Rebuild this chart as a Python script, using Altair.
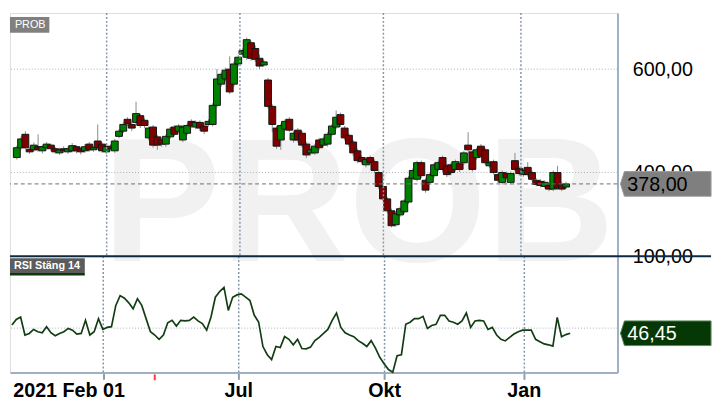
import altair as alt
import pandas as pd

symbol = "PROB"
rsi_name = "RSI Stäng 14"

opens = [429, 448, 474, 445, 444, 450, 442, 448, 453, 446,
         438, 446, 440, 442, 450, 446, 442, 455, 444, 461,
         455, 440, 451, 442, 470, 480, 503, 493, 497, 510,
         501, 467, 488, 469, 463, 455, 469, 488, 480, 463,
         476, 499, 488, 497, 490, 493, 493, 530, 571, 581,
         600, 571, 610, 629, 623, 651, 640, 621, 608, 579,
         528, 486, 463, 484, 503, 463, 482, 476, 455, 438,
         438, 463, 453, 455, 474, 488, 512, 486, 472, 459,
         442, 429, 415, 429, 421, 400, 373, 349, 326, 299,
         318, 324, 343, 389, 387, 419, 385, 381, 394, 406,
         429, 413, 415, 406, 417, 419, 453, 440, 429, 451,
         444, 413, 421, 396, 381, 398, 381, 423, 408, 396,
         410, 400, 385, 383, 373, 375, 368, 400, 377, 372]
closes = [448, 465, 448, 440, 453, 444, 450, 455, 446, 440,
          444, 442, 446, 452, 442, 440, 450, 444, 448, 448,
          442, 450, 446, 461, 480, 493, 495, 486, 514, 491,
          491, 486, 453, 453, 455, 470, 484, 474, 490, 488,
          491, 490, 497, 486, 480, 499, 530, 581, 590, 598,
          556, 610, 623, 636, 657, 621, 619, 606, 614, 528,
          493, 451, 491, 499, 482, 476, 463, 453, 434, 444,
          451, 448, 465, 474, 490, 507, 493, 467, 455, 438,
          423, 421, 425, 419, 404, 373, 349, 326, 297, 320,
          330, 345, 389, 404, 419, 394, 366, 396, 415, 419,
          406, 396, 400, 421, 406, 438, 444, 406, 444, 432,
          419, 419, 400, 385, 400, 390, 398, 406, 398, 404,
          396, 387, 377, 375, 381, 368, 400, 370, 368, 378]
highs = [452, 470, 480, 449, 458, 474, 453, 459, 456, 450,
         448, 451, 450, 457, 453, 449, 455, 459, 452, 493,
         459, 454, 455, 465, 484, 497, 507, 497, 537, 514,
         505, 490, 492, 473, 467, 474, 488, 492, 494, 492,
         495, 503, 501, 501, 494, 503, 534, 600, 594, 603,
         625, 615, 627, 640, 661, 655, 646, 628, 618, 583,
         532, 490, 495, 503, 507, 480, 486, 480, 459, 448,
         455, 467, 469, 478, 494, 520, 516, 490, 476, 463,
         446, 433, 429, 433, 425, 404, 377, 353, 330, 324,
         334, 349, 393, 408, 423, 423, 389, 400, 419, 423,
         433, 417, 419, 425, 421, 442, 478, 444, 448, 455,
         448, 423, 425, 400, 404, 402, 402, 438, 412, 408,
         420, 404, 389, 387, 385, 379, 404, 413, 381, 382]
lows = [425, 444, 445, 436, 440, 440, 437, 444, 441, 436,
        434, 438, 436, 439, 437, 435, 438, 440, 440, 444,
        438, 436, 442, 438, 466, 476, 490, 480, 493, 486,
        486, 462, 448, 444, 450, 450, 465, 470, 476, 459,
        472, 486, 484, 480, 474, 489, 489, 526, 566, 576,
        552, 566, 605, 624, 618, 616, 614, 600, 604, 524,
        478, 446, 444, 480, 478, 458, 458, 448, 428, 433,
        434, 443, 449, 450, 470, 484, 488, 462, 450, 432,
        418, 416, 410, 414, 399, 368, 344, 321, 294, 295,
        314, 320, 339, 385, 383, 389, 361, 377, 390, 402,
        401, 391, 395, 402, 401, 415, 440, 402, 425, 428,
        415, 409, 396, 380, 377, 386, 377, 402, 394, 392,
        392, 383, 373, 371, 369, 364, 364, 366, 364, 368]
rsi = [52.1, 56.0, 57.7, 45.2, 46.3, 49.1, 47.5, 46.8, 51.0, 46.8,
       44.7, 46.3, 47.5, 49.8, 48.6, 45.9, 46.3, 55.4, 45.2, 47.5,
       56.6, 49.1, 50.5, 51.0, 65.8, 72.6, 70.8, 67.6, 63.5, 70.4,
       65.8, 56.6, 47.5, 45.2, 42.2, 45.2, 53.7, 55.4, 51.4, 55.4,
       55.0, 55.4, 57.7, 55.0, 53.2, 48.6, 57.7, 71.5, 75.4, 78.3,
       62.3, 71.5, 73.1, 73.8, 71.5, 69.2, 58.9, 54.3, 37.2, 31.5,
       28.1, 37.2, 36.5, 44.1, 42.2, 38.4, 42.2, 35.8, 35.6, 36.8,
       41.3, 43.6, 46.3, 49.1, 55.4, 60.5, 50.5, 46.8, 45.2, 44.1,
       41.3, 39.5, 37.2, 41.3, 36.1, 29.7, 25.3, 21.2, 19.4, 30.8,
       31.5, 52.7, 54.1, 56.6, 56.6, 58.2, 49.8, 51.8, 52.7, 58.9,
       58.9, 55.0, 54.1, 52.7, 55.0, 60.5, 50.5, 55.0, 55.4, 55.0,
       49.1, 50.5, 45.2, 42.2, 41.1, 43.6, 45.9, 47.5, 48.6, 48.6,
       48.6, 42.2, 40.6, 39.0, 38.4, 37.5, 57.5, 44.0, 45.5, 46.45]

tick_pos = [21.1, 52.4, 86.1, 118.4]
tick_text = ["2021 Feb 01", "Jul", "Okt", "Jan"]
marker_pos = [33.0]
price_ticks = [400, 600]
rsi_ticks = [50, 100]

FONT = "Liberation Sans"
W, HP, HR = 617, 247, 118
X_DOM = [-0.455, 139.93]
P_DOM = [238.1, 708.6]
R_DOM = [19.2, 100]
LE = "replace(format(datum.value, '.2f'), '.', ',')"
TAG = "M -1 0 L -0.913 -0.272 L 1 -0.272 L 1 0.272 L -0.913 0.272 Z"


def fmt(v):
    return f"{v:.2f}".replace(".", ",")


n = len(closes)
df = pd.DataFrame({"i": list(range(n)), "open": opens, "close": closes,
                   "high": highs, "low": lows, "rsi": rsi})
df["dir"] = ["up" if c >= o else "down" for o, c in zip(opens, closes)]
last = pd.DataFrame({"close": [closes[-1]], "rsi": [rsi[-1]],
                     "plabel": [fmt(closes[-1])], "rlabel": [fmt(rsi[-1])]})
vgrid = pd.DataFrame({"i": tick_pos, "label": tick_text})
sym_df = pd.DataFrame({"t": [symbol]})
rsi_df = pd.DataFrame({"t": [rsi_name]})

xs = alt.Scale(domain=X_DOM, nice=False, zero=False)
ps = alt.Scale(domain=P_DOM, nice=False, zero=False)
rs = alt.Scale(domain=R_DOM, nice=False, zero=False)

p_axis = alt.Axis(orient="right", values=price_ticks, labelExpr=LE, ticks=False,
                  grid=False, domain=True, domainColor="#9fb0c3", domainWidth=2,
                  labelPadding=15, labelFontSize=20, labelFont=FONT,
                  labelColor="#000000", title=None)
r_axis = alt.Axis(orient="right", values=rsi_ticks, labelExpr=LE, ticks=False,
                  grid=False, domain=True, domainColor="#9fb0c3", domainWidth=2,
                  labelPadding=15, labelFontSize=20, labelFont=FONT,
                  labelColor="#000000", title=None)
xr_axis = alt.Axis(values=tick_pos, labels=False, ticks=True, tickSize=7, tickWidth=2,
                   tickColor="#8d9db0", domain=True, domainColor="#9fb0c3",
                   domainWidth=2, grid=False, title=None)

XP = alt.X("i:Q", scale=xs, axis=None)
XR = alt.X("i:Q", scale=xs, axis=xr_axis)

# ---------------- price panel ----------------
wm = alt.Chart(sym_df).mark_text(font=FONT, fontSize=180, fontWeight="bold",
                                  color="#f1f1f1", align="center",
                                  baseline="alphabetic").encode(
    x=alt.value(354), y=alt.value(252), text="t:N")

hgrid = alt.Chart(pd.DataFrame({"v": price_ticks})).mark_rule(
    color="#a5b0bd", strokeDash=[1, 2], strokeWidth=1).encode(
    y=alt.Y("v:Q", scale=ps, axis=p_axis))

wicks = alt.Chart(df).mark_rule(color="#8a8a8a", strokeWidth=1).encode(
    x=XP, y=alt.Y("low:Q", scale=ps, axis=p_axis), y2="high:Q")

bodies = alt.Chart(df).mark_bar(size=7, stroke="#141414", strokeWidth=1).encode(
    x=XP, y=alt.Y("open:Q", scale=ps, axis=p_axis), y2="close:Q",
    color=alt.Color("dir:N", scale=alt.Scale(domain=["up", "down"],
                                             range=["#008000", "#800000"]),
                    legend=None))

vg_p = alt.Chart(vgrid).mark_rule(color="#8595a8", strokeDash=[2, 2],
                                  strokeWidth=1.5).encode(x=XP)

last_line = alt.Chart(last).mark_rule(color="#6e6e6e", strokeDash=[4, 3],
                                      strokeWidth=1).encode(
    y=alt.Y("close:Q", scale=ps, axis=p_axis))

sym_box = alt.Chart(sym_df).mark_rect(color="#808080").encode(
    x=alt.value(0), x2=alt.value(40), y=alt.value(4), y2=alt.value(20))
sym_txt = alt.Chart(sym_df).mark_text(color="white", fontSize=11, font=FONT,
                                      align="left", baseline="middle").encode(
    x=alt.value(5), y=alt.value(12.5), text="t:N")

p_tag = alt.Chart(last).mark_point(shape=TAG, size=92 * 92, filled=True,
                                   color="#7f7f7f", opacity=1, stroke="#9a9a9a",
                                   strokeWidth=1).encode(
    x=alt.value(666), y=alt.Y("close:Q", scale=ps, axis=p_axis))
p_tag_txt = alt.Chart(last).mark_text(fontSize=20, font=FONT, color="#000000",
                                      align="left", baseline="middle", dy=1).encode(
    x=alt.value(627), y=alt.Y("close:Q", scale=ps, axis=p_axis), text="plabel:N")

price = alt.layer(wm, hgrid, wicks, bodies, vg_p, last_line, sym_box, sym_txt,
                  p_tag, p_tag_txt).properties(width=W, height=HP)

# ---------------- RSI panel ----------------
rgrid = alt.Chart(pd.DataFrame({"v": [50]})).mark_rule(
    color="#a5b0bd", strokeDash=[1, 2], strokeWidth=1).encode(
    y=alt.Y("v:Q", scale=rs, axis=r_axis))

vg_r = alt.Chart(vgrid).mark_rule(color="#8595a8", strokeDash=[2, 2],
                                  strokeWidth=1.5).encode(x=XR)

sep = alt.Chart(pd.DataFrame({"v": [100]})).mark_rule(
    color="#0f2a40", strokeWidth=2).encode(
    x=alt.value(0), x2=alt.value(712), y=alt.Y("v:Q", scale=rs, axis=r_axis))

rline = alt.Chart(df).mark_line(color="#123d12", strokeWidth=1.7).encode(
    x=XR, y=alt.Y("rsi:Q", scale=rs, axis=r_axis))

marker = alt.Chart(pd.DataFrame({"i": marker_pos})).mark_rule(
    color="#ff3b3b", strokeWidth=2).encode(
    x=XR, y=alt.value(HR + 2), y2=alt.value(HR + 8))

lab_first = alt.Chart(vgrid.iloc[:1]).mark_text(
    font=FONT, fontSize=20, fontWeight="bold", color="#000000", align="right",
    baseline="alphabetic", dx=22).encode(x=XR, y=alt.value(HR + 25), text="label:N")
lab_rest = alt.Chart(vgrid.iloc[1:]).mark_text(
    font=FONT, fontSize=20, fontWeight="bold", color="#000000", align="center",
    baseline="alphabetic").encode(x=XR, y=alt.value(HR + 25), text="label:N")

rsi_box = alt.Chart(rsi_df).mark_rect(color="#5c5c5c").encode(
    x=alt.value(0), x2=alt.value(76), y=alt.value(2), y2=alt.value(17))
rsi_strip = alt.Chart(rsi_df).mark_rect(color="#0a3a0a").encode(
    x=alt.value(0), x2=alt.value(76), y=alt.value(17), y2=alt.value(19.5))
rsi_txt = alt.Chart(rsi_df).mark_text(color="white", fontSize=11, font=FONT,
                                      fontWeight="bold", align="left",
                                      baseline="middle").encode(
    x=alt.value(4), y=alt.value(10), text="t:N")

r_tag = alt.Chart(last).mark_point(shape=TAG, size=92 * 92, filled=True,
                                   color="#063806", opacity=1, stroke="#5c8a5c",
                                   strokeWidth=1).encode(
    x=alt.value(666), y=alt.Y("rsi:Q", scale=rs, axis=r_axis))
r_tag_txt = alt.Chart(last).mark_text(fontSize=20, font=FONT, color="#ffffff",
                                      align="left", baseline="middle", dy=1).encode(
    x=alt.value(627), y=alt.Y("rsi:Q", scale=rs, axis=r_axis), text="rlabel:N")

rsi_panel = alt.layer(rgrid, vg_r, rline, sep, marker, lab_first, lab_rest,
                      rsi_box, rsi_strip, rsi_txt, r_tag, r_tag_txt).properties(
    width=W, height=HR)

chart = alt.vconcat(price, rsi_panel, spacing=0, bounds="flush").properties(
    padding=0, background="white").configure_view(strokeWidth=0).configure(font=FONT)

chart.save("out.html", embed_options={"renderer": "svg", "actions": False})
